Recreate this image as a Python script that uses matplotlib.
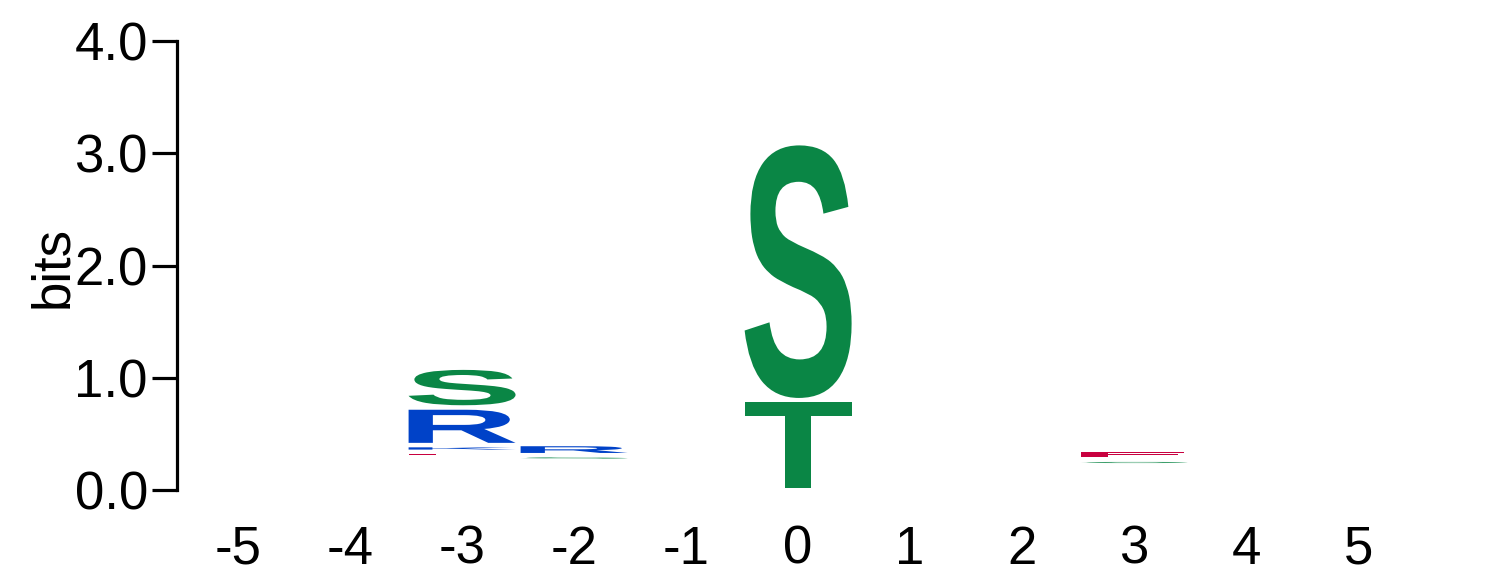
import matplotlib
matplotlib.use("Agg")
import matplotlib.pyplot as plt
from matplotlib.textpath import TextPath
from matplotlib.patches import PathPatch
from matplotlib.font_manager import FontProperties
from matplotlib.transforms import Affine2D

# ---- data ----
positions = [-5, -4, -3, -2, -1, 0, 1, 2, 3, 4, 5]
# bits taken by many tiny residues that are not drawn (stack base)
stack_base = {-3: 0.29, -2: 0.26, 0: 0.0, 3: 0.22}
# visible letters per position, bottom -> top, heights in bits
stack_letters = {
    -3: ["E", "K", "R", "S"],
    -2: ["S", "R"],
    0: ["T", "S"],
    3: ["S", "E"],
}
stack_heights = {
    -3: [0.05, 0.06, 0.335, 0.355],
    -2: [0.05, 0.10],
    0: [0.80, 2.29],
    3: [0.05, 0.09],
}
letter_colors = {"S": "#0a8645", "T": "#0a8645", "R": "#0042c8", "K": "#0042c8",
                 "E": "#c8003f"}
yticks = [0.0, 1.0, 2.0, 3.0, 4.0]
ytick_labels = ["0.0", "1.0", "2.0", "3.0", "4.0"]

W, H = 1486, 583
fig = plt.figure(figsize=(W / 100, H / 100), dpi=100)
ax = fig.add_axes([177 / W, (583 - 490) / H, 1282 / W, 449 / H])
ax.set_xlim(-5.545, 5.9)
ax.set_ylim(0, 4)

glyph_font = FontProperties(family="Liberation Sans", weight="bold")
pad = 0.02
letter_w = 0.955


def draw_letter(ch, xc, y0, h, color):
    tp = TextPath((0, 0), ch, size=100, prop=glyph_font)
    ext = tp.get_extents()
    gy0 = y0 + pad
    gh = max(h - 2 * pad, 0.008)
    tr = (Affine2D().translate(-ext.x0, -ext.y0)
          .scale(letter_w / ext.width, gh / ext.height)
          .translate(xc - letter_w / 2, gy0))
    path = tr.transform_path(tp)
    ax.add_patch(PathPatch(path, facecolor=color, edgecolor="none", lw=0))


for p in positions:
    if p not in stack_letters:
        continue
    y = stack_base[p]
    for ch, h in zip(stack_letters[p], stack_heights[p]):
        draw_letter(ch, p, y, h, letter_colors[ch])
        y += h

for s in ["top", "right", "bottom"]:
    ax.spines[s].set_visible(False)
ax.spines["left"].set_linewidth(2.3)
ax.spines["left"].set_bounds(0, 4)

ax.set_yticks(yticks)
ax.set_yticklabels(ytick_labels)
ax.set_xticks(positions)
ax.set_xticklabels([str(p) for p in positions])
ax.tick_params(axis="y", length=18, width=2.3, pad=3, labelsize=38)
ax.tick_params(axis="x", length=0, pad=25, labelsize=38)
for lab in ax.get_xticklabels() + ax.get_yticklabels():
    lab.set_family("Liberation Sans")

fig.text(53 / W, 1 - 267 / H, "bits", rotation=90, ha="center", va="center",
         fontsize=38, family="Liberation Sans")

fig.savefig("out.png", dpi=100)
